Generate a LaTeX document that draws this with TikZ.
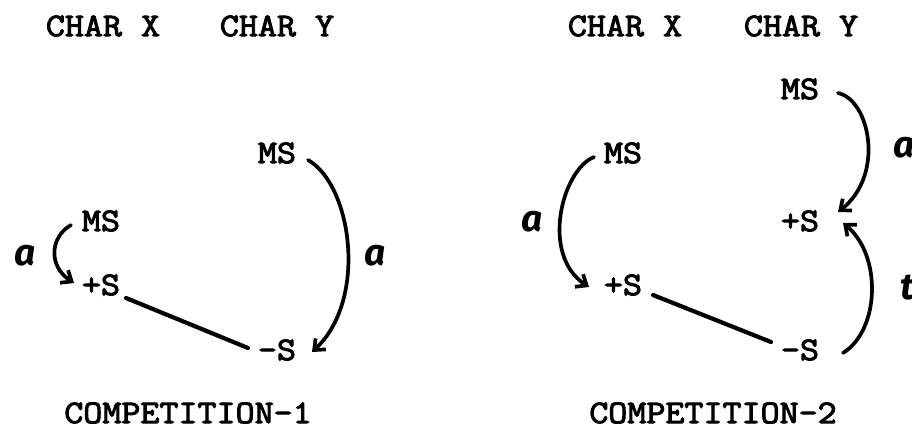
\documentclass[tikz,border=0pt]{standalone}
\usepackage{fontspec}
\newfontfamily\twfont[FakeStretch=1.12, FakeBold=3]{Latin Modern Mono}
\newfontfamily\handfont{Fira Sans}
\usetikzlibrary{arrows.meta}
\tikzset{
  lbl/.style={inner sep=0pt, font=\twfont\fontsize{33}{33}\selectfont},
  hand/.style={inner sep=0pt, font=\handfont\bfseries\itshape\fontsize{37}{37}\selectfont},
  conn/.style={line width=3.7pt, line cap=round, -{Straight Barb[length=9pt,width=15pt,line width=3.7pt]}},
  bond/.style={line width=4.2pt, line cap=round}
}
\begin{document}
\begin{tikzpicture}[x=1pt,y=-1pt]
\clip (0,0) rectangle (912,428);
\fill[white] (0,0) rectangle (912,428);
% ---------- panel 1 ----------
\node[lbl] (cx1) at (103,26) {CHAR X};
\node[lbl] (cy1) at (277,26) {CHAR Y};
\node[lbl] (msy1) at (277,153) {MS};
\node[lbl] (msx1) at (101,221) {MS};
\node[lbl] (psx1) at (101,285) {+S};
\node[lbl] (nsy1) at (277,350) {-S};
\node[lbl] (comp1) at (188,413) {COMPETITION-1};
\node[hand] (a1) at (25,256) {a};
\node[hand] (a2) at (375,256) {a};
\draw[conn] ([shift={(-30,4)}]msx1.center) .. controls (50,237) and (48,266) .. ([shift={(-27,-2)}]psx1.center);
\draw[conn] ([shift={(31,7)}]msy1.center) .. controls (352,185) and (368,300) .. ([shift={(35,2)}]nsy1.center);
\draw[bond] ([shift={(25,13)}]psx1.center) -- ([shift={(-29,-2)}]nsy1.center);
% ---------- panel 2 ----------
\node[lbl] (cx2) at (625,26) {CHAR X};
\node[lbl] (cy2) at (801,26) {CHAR Y};
\node[lbl] (msy2) at (800,89) {MS};
\node[lbl] (msx2) at (623,153) {MS};
\node[lbl] (psy2) at (800,221) {+S};
\node[lbl] (psx2) at (623,285) {+S};
\node[lbl] (nsy2) at (800,350) {-S};
\node[lbl] (comp2) at (713,413) {COMPETITION-2};
\node[hand] (a3) at (532,222) {a};
\node[hand] (a4) at (904,148) {a};
\node[hand] (t1) at (907,288) {t};
\draw[conn] ([shift={(-29,4)}]msx2.center) .. controls (562,170) and (540,255) .. ([shift={(-34,2)}]psx2.center);
\draw[conn] ([shift={(38,4)}]msy2.center) .. controls (870,100) and (885,175) .. ([shift={(38,-9)}]psy2.center);
\draw[conn] ([shift={(43,3)}]nsy2.center) .. controls (880,330) and (882,255) .. ([shift={(43,2)}]psy2.center);
\draw[bond] ([shift={(30,10)}]psx2.center) -- ([shift={(-29,-8)}]nsy2.center);
\end{tikzpicture}
\end{document}
